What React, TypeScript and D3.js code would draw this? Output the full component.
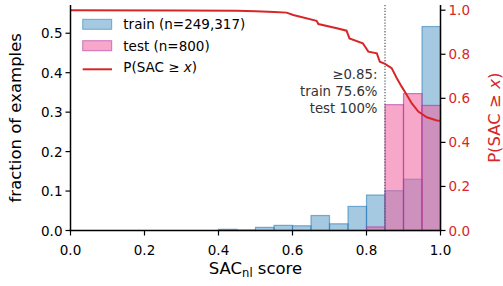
import React from "react";
import * as d3 from "d3";

// histogram bins (left edges, width 0.05)
const binStarts = [0.4, 0.45, 0.5, 0.55, 0.6, 0.65, 0.7, 0.75, 0.8, 0.85, 0.9, 0.95];
const trainFrac = [0.003, 0.0015, 0.008, 0.013, 0.012, 0.038, 0.017, 0.061, 0.09, 0.101, 0.13, 0.517];
const testFrac = [0, 0, 0, 0, 0, 0, 0, 0, 0.009, 0.319, 0.347, 0.317];
const binWidth = 0.05;

// survival curve P(SAC >= x) on the train set
const cdfX = [0, 0.3, 0.45, 0.5, 0.55, 0.584, 0.602, 0.665, 0.67, 0.72, 0.746, 0.754, 0.79, 0.805, 0.828, 0.836, 0.85, 0.868, 0.882, 0.895, 0.909, 0.922, 0.94, 0.963, 0.99, 1.0];
const cdfY = [1.0, 0.999, 0.997, 0.995, 0.992, 0.989, 0.978, 0.952, 0.937, 0.918, 0.907, 0.872, 0.85, 0.812, 0.804, 0.766, 0.756, 0.737, 0.691, 0.653, 0.615, 0.578, 0.54, 0.514, 0.499, 0.498];

const xTicks = [0, 0.2, 0.4, 0.6, 0.8, 1.0];
const leftTicks = [0, 0.1, 0.2, 0.3, 0.4, 0.5];
const rightTicks = [0, 0.2, 0.4, 0.6, 0.8, 1.0];
const legendLabels = ["train (n=249,317)", "test (n=800)"];
const annotLines = ["\u22650.85:", "train 75.6%", "test 100%"];
const threshold = 0.85;

const W = 503;
const H = 286;
const margin = { left: 70.5, right: 62.5, top: 5, bottom: 55.5 };
const RED = "#d62728";
const PINK = "#f0609f";
const PINK_EDGE = "#b0309a";
const FONT = "DejaVu Sans";

export default function App() {
  const x = d3.scaleLinear().domain([0, 1]).range([margin.left, W - margin.right]);
  const yL = d3.scaleLinear().domain([0, 0.5716]).range([H - margin.bottom, margin.top]);
  const yR = d3.scaleLinear().domain([0, 1.0236]).range([H - margin.bottom, margin.top]);

  const line = d3
    .line<number>()
    .x((_, i) => x(cdfX[i]))
    .y((d) => yR(d));

  const x0 = x(0);
  const x1 = x(1);
  const yb = yL(0);
  const fmt = d3.format(".1f");

  return (
    <svg
      width={W}
      height={H}
      style={{ position: "absolute", left: 0, top: 0, background: "#fff" }}
      fontFamily={FONT}
    >
      {/* train bars */}
      {binStarts.map((b, i) =>
        trainFrac[i] > 0 ? (
          <rect
            key={"tr" + i}
            x={x(b)}
            y={yL(trainFrac[i])}
            width={x(b + binWidth) - x(b)}
            height={yb - yL(trainFrac[i])}
            fill="#1f77b4"
            fillOpacity={0.4}
            stroke="#1f77b4"
            strokeOpacity={0.55}
            strokeWidth={1.2}
          />
        ) : null
      )}
      {/* test bars */}
      {binStarts.map((b, i) =>
        testFrac[i] > 0 ? (
          <rect
            key={"te" + i}
            x={x(b)}
            y={yL(testFrac[i])}
            width={x(b + binWidth) - x(b)}
            height={yb - yL(testFrac[i])}
            fill={PINK}
            fillOpacity={0.55}
            stroke={PINK_EDGE}
            strokeOpacity={0.6}
            strokeWidth={1.2}
          />
        ) : null
      )}

      {/* threshold line */}
      <line
        x1={x(threshold)}
        x2={x(threshold)}
        y1={margin.top}
        y2={yb}
        stroke="#666"
        strokeWidth={1.3}
        strokeDasharray="1.3,1.6"
      />

      {/* survival curve */}
      <path d={line(cdfY) || ""} fill="none" stroke={RED} strokeWidth={2} />

      {/* annotation */}
      {annotLines.map((t, i) => (
        <text
          key={t}
          x={377.5}
          y={79 + i * 16.8}
          textAnchor="end"
          fontSize={13.3}
          fill="#333"
        >
          {t}
        </text>
      ))}

      {/* spines */}
      <line x1={x0} x2={x0} y1={margin.top} y2={yb} stroke="#000" strokeWidth={1.5} />
      <line x1={x1} x2={x1} y1={margin.top} y2={yb} stroke="#000" strokeWidth={1.5} />
      <line x1={x0 - 0.75} x2={x1 + 0.75} y1={yb} y2={yb} stroke="#000" strokeWidth={1.5} />

      {/* x ticks */}
      {xTicks.map((t) => (
        <g key={"x" + t}>
          <line x1={x(t)} x2={x(t)} y1={yb} y2={yb + 5} stroke="#000" strokeWidth={1.2} />
          <text x={x(t)} y={yb + 19.5} textAnchor="middle" dominantBaseline="central" fontSize={13.5}>
            {fmt(t)}
          </text>
        </g>
      ))}
      {/* left ticks */}
      {leftTicks.map((t) => (
        <g key={"l" + t}>
          <line x1={x0 - 5} x2={x0} y1={yL(t)} y2={yL(t)} stroke="#000" strokeWidth={1.2} />
          <text x={x0 - 8} y={yL(t)} textAnchor="end" dominantBaseline="central" fontSize={13.5}>
            {fmt(t)}
          </text>
        </g>
      ))}
      {/* right ticks */}
      {rightTicks.map((t) => (
        <g key={"r" + t}>
          <line x1={x1} x2={x1 + 5} y1={yR(t)} y2={yR(t)} stroke="#000" strokeWidth={1.2} />
          <text x={x1 + 8} y={yR(t)} dominantBaseline="central" fontSize={13.5} fill={RED}>
            {fmt(t)}
          </text>
        </g>
      ))}

      {/* axis labels */}
      <text
        transform={`translate(15,${(margin.top + yb) / 2}) rotate(-90)`}
        textAnchor="middle"
        dominantBaseline="central"
        fontSize={16.5}
      >
        fraction of examples
      </text>
      <text
        transform={`translate(494,${(margin.top + yb) / 2}) rotate(-90)`}
        textAnchor="middle"
        dominantBaseline="central"
        fontSize={16.5}
        fill={RED}
      >
        P(SAC {"\u2265"} <tspan fontStyle="italic">x</tspan>)
      </text>
      <text x={(x0 + x1) / 2} y={274} textAnchor="middle" fontSize={16.5}>
        SAC
        <tspan fontSize={11.5} dy={3}>
          nl
        </tspan>
        <tspan dy={-3}> score</tspan>
      </text>

      {/* legend */}
      <rect x={82.7} y={19.3} width={29} height={10} fill="#1f77b4" fillOpacity={0.4} stroke="#1f77b4" strokeOpacity={0.55} />
      <rect x={82.7} y={40.7} width={29} height={10} fill={PINK} fillOpacity={0.55} stroke={PINK_EDGE} strokeOpacity={0.6} />
      <line x1={82.7} x2={112} y1={69.3} y2={69.3} stroke={RED} strokeWidth={2} />
      {legendLabels.map((l, i) => (
        <text key={l} x={123.3} y={24.3 + i * 21.4} dominantBaseline="central" fontSize={13.5}>
          {l}
        </text>
      ))}
      <text x={123.3} y={67.2} dominantBaseline="central" fontSize={13.5}>
        P(SAC {"\u2265"} <tspan fontStyle="italic">x</tspan>)
      </text>
    </svg>
  );
}
